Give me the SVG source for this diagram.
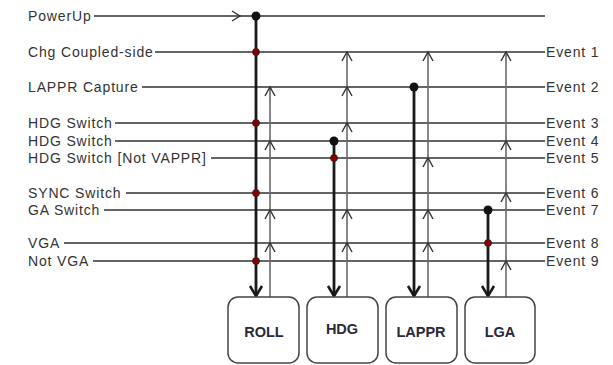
<svg xmlns="http://www.w3.org/2000/svg" width="613" height="365" viewBox="0 0 613 365">
<defs>
<style>
.lbl{font-family:"Liberation Sans",Arial,sans-serif;font-size:14px;letter-spacing:0.85px;fill:#333}
.box{fill:#fff;stroke:#444;stroke-width:1.5}
.btxt{font-family:"Liberation Sans",Arial,sans-serif;font-size:14.5px;font-weight:bold;fill:#2a2a3a;text-anchor:middle}
.h{stroke:#333;stroke-width:1.4;fill:none}
.dn{stroke:#1a1a1a;stroke-width:2.8;fill:none}
.up{stroke:#6a6a6a;stroke-width:1.6;fill:none}
.ua{stroke:#333;stroke-width:1.4;fill:none}
.da{stroke:#1a1a1a;stroke-width:2.6;fill:none}
.bd{fill:#111}
.rd{fill:#8b0000;stroke:#222;stroke-width:0.8}
</style>
<path id="uarr" d="M-5,9 L0,0 L5,9"/>
<path id="darr" d="M-6,-10 L0,0 L6,-10"/>
</defs>
<g id="labels">
<text class="lbl" x="28" y="21">PowerUp</text>
<text class="lbl" x="28" y="57">Chg Coupled-side</text>
<text class="lbl" x="28" y="92">LAPPR Capture</text>
<text class="lbl" x="28" y="128">HDG Switch</text>
<text class="lbl" x="28" y="146">HDG Switch</text>
<text class="lbl" x="28" y="163">HDG Switch [Not VAPPR]</text>
<text class="lbl" x="28" y="198">SYNC Switch</text>
<text class="lbl" x="28" y="215">GA Switch</text>
<text class="lbl" x="28" y="248">VGA</text>
<text class="lbl" x="28" y="266">Not VGA</text>
<text class="lbl" x="546" y="57">Event 1</text>
<text class="lbl" x="546" y="92">Event 2</text>
<text class="lbl" x="546" y="128">Event 3</text>
<text class="lbl" x="546" y="146">Event 4</text>
<text class="lbl" x="546" y="163">Event 5</text>
<text class="lbl" x="546" y="198">Event 6</text>
<text class="lbl" x="546" y="215">Event 7</text>
<text class="lbl" x="546" y="248">Event 8</text>
<text class="lbl" x="546" y="266">Event 9</text>
</g>
<g id="connectors">
<path class="h" d="M94,16H545M155,52H545M142,87H545M115,123H545M115,141H545M211,158H545M126,193H545M104,210H545M64,243H545M93,261H545"/>
<path class="h" d="M232,11L240,16L232,21"/>
<path class="up" d="M270,297V87M347,297V52M428,297V52M506,297V52"/>
<g class="ua">
<use href="#uarr" x="270" y="87"/><use href="#uarr" x="270" y="141"/><use href="#uarr" x="270" y="210"/><use href="#uarr" x="270" y="243"/>
<use href="#uarr" x="347" y="52"/><use href="#uarr" x="347" y="87"/><use href="#uarr" x="347" y="123"/><use href="#uarr" x="347" y="210"/><use href="#uarr" x="347" y="243"/>
<use href="#uarr" x="428" y="52"/><use href="#uarr" x="428" y="158"/><use href="#uarr" x="428" y="210"/><use href="#uarr" x="428" y="243"/>
<use href="#uarr" x="506" y="52"/><use href="#uarr" x="506" y="141"/><use href="#uarr" x="506" y="193"/><use href="#uarr" x="506" y="261"/>
</g>
<path class="dn" d="M256,16V296M334,141V296M414,87V296M488,210V296"/>
<g class="da">
<use href="#darr" x="256" y="296"/><use href="#darr" x="334" y="296"/><use href="#darr" x="414" y="296"/><use href="#darr" x="488" y="296"/>
</g>
<circle class="bd" cx="256" cy="16" r="4.5"/>
<circle class="bd" cx="334" cy="141" r="4.5"/>
<circle class="bd" cx="414" cy="87" r="4.5"/>
<circle class="bd" cx="488" cy="210" r="4.5"/>
<circle class="rd" cx="256" cy="52" r="3.5"/>
<circle class="rd" cx="256" cy="123" r="3.5"/>
<circle class="rd" cx="256" cy="193" r="3.5"/>
<circle class="rd" cx="256" cy="261" r="3.5"/>
<circle class="rd" cx="334" cy="158" r="3.5"/>
<circle class="rd" cx="488" cy="243" r="3.5"/>
</g>
<g id="roll"><rect class="box" x="228" y="297" width="71" height="66" rx="10"/><text class="btxt" x="264" y="337">ROLL</text></g>
<g id="hdg"><rect class="box" x="307" y="297" width="71" height="66" rx="10"/><text class="btxt" x="342" y="334">HDG</text></g>
<g id="lappr"><rect class="box" x="386" y="297" width="71" height="66" rx="10"/><text class="btxt" x="421" y="337">LAPPR</text></g>
<g id="lga"><rect class="box" x="465" y="297" width="70" height="66" rx="10"/><text class="btxt" x="500" y="337">LGA</text></g>
</svg>
